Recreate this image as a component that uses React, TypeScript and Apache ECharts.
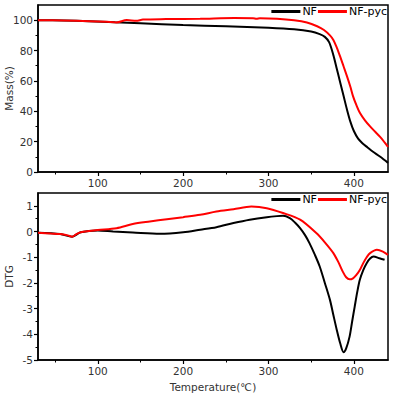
import React, { useEffect, useRef } from "react";
import * as echarts from "echarts";

// Mass (TG) curves
const massNFTemp = [30, 60, 90, 120, 150, 200, 250, 300, 330, 350, 360, 366, 371, 376, 380, 384, 388, 392, 396, 400, 405, 410, 416, 422, 431, 440];
const massNF = [100, 99.8, 99.3, 98.6, 98.0, 96.8, 96.0, 95.0, 94.0, 92.5, 90.8, 89, 85.5, 77, 68, 59, 50, 41, 33, 27, 22, 19, 16.2, 13.5, 10, 6];
const massPycTemp = [30, 60, 90, 110, 122, 134, 145, 153, 180, 220, 260, 282, 286, 290, 310, 330, 345, 357, 365, 372, 376, 380, 384, 388, 392, 396, 399, 403, 407, 413, 419, 425, 431, 436, 440];
const massPyc = [100, 99.8, 99.3, 98.9, 98.5, 100.1, 99.6, 100.4, 100.7, 100.9, 101.4, 101.3, 100.9, 101.3, 101, 100, 98.5, 96, 93.5, 90, 87, 82, 76, 69.5, 63, 56, 50, 44, 39, 34, 30, 26.5, 23, 19.5, 16.5];

// DTG curves
const dtgNFTemp = [30, 56, 70, 80, 100, 118, 141, 173, 200, 220, 239, 259, 278, 298, 310, 317, 325, 331, 337, 343, 348, 354, 360, 366, 372, 376, 380, 384, 388, 391, 395, 398, 401, 404, 407, 411, 415, 419, 423, 430, 436];
const dtgNF = [-0.05, -0.1, -0.2, -0.03, 0.04, 0.0, -0.04, -0.09, -0.03, 0.07, 0.17, 0.33, 0.46, 0.56, 0.6, 0.61, 0.52, 0.35, 0.13, -0.15, -0.45, -0.88, -1.36, -2.0, -2.66, -3.25, -3.83, -4.35, -4.7, -4.55, -4.09, -3.5, -2.92, -2.35, -1.88, -1.5, -1.23, -1.05, -0.97, -1.04, -1.1];
const dtgPycTemp = [30, 45, 56, 65, 70, 75, 80, 90, 100, 122, 141, 161, 181, 200, 220, 239, 259, 280, 298, 317, 337, 356, 366, 376, 382, 387, 391, 395, 399, 403, 407, 411, 415, 419, 427, 434, 440];
const dtgPyc = [-0.05, -0.08, -0.1, -0.15, -0.2, -0.1, -0.03, 0.02, 0.06, 0.13, 0.29, 0.39, 0.48, 0.56, 0.65, 0.78, 0.87, 0.97, 0.91, 0.72, 0.46, -0.06, -0.42, -0.84, -1.2, -1.56, -1.78, -1.86, -1.82, -1.69, -1.5, -1.23, -1.0, -0.84, -0.71, -0.78, -0.91];

const xMajor = [100, 200, 300, 400];
const xMinor = [50, 150, 250, 350];
const massMajor = [0, 20, 40, 60, 80, 100];
const massMinor = [10, 30, 50, 70, 90];
const dtgMajor = [-5, -4, -3, -2, -1, 0, 1];
const dtgMinor = [-4.5, -3.5, -2.5, -1.5, -0.5, 0.5];

const seriesNames = ["NF", "NF-pyc"];
const colors = ["#000000", "#ff0000"];

const zip = (xs: number[], ys: number[]) => xs.map((x, i) => [x, ys[i]]);

const font = "DejaVu Sans";
const labelStyle = { color: "#333", fontFamily: font, fontSize: 10.5 };

export default function App() {
  const ref = useRef<HTMLDivElement>(null);
  useEffect(() => {
    if (!ref.current) return;
    const chart = echarts.init(ref.current, undefined, { renderer: "svg" });
    const grids = [
      { left: 38, top: 5, width: 350, height: 167 },
      { left: 38, top: 193, width: 350, height: 167 },
    ];
    const xAxes: any[] = [];
    const yAxes: any[] = [];
    [0, 1].forEach((g) => {
      xAxes.push({
        type: "value",
        gridIndex: g,
        position: "bottom",
        min: 30,
        max: 440,
        name: g === 1 ? "Temperature(℃)" : "",
        nameLocation: "middle",
        nameGap: 21,
        nameMoveOverlap: false,
        nameTextStyle: { color: "#333", fontFamily: font, fontSize: 10.5 },
        axisLine: { show: true, onZero: false, lineStyle: { color: "#000", width: 1.5 } },
        axisTick: { show: true, customValues: xMajor, length: 4, lineStyle: { color: "#000", width: 1.2 } },
        axisLabel: { ...labelStyle, customValues: xMajor, margin: 5 },
        splitLine: { show: false },
      });
      xAxes.push({
        type: "value",
        gridIndex: g,
        position: "bottom",
        min: 30,
        max: 440,
        axisLine: { show: false, onZero: false },
        axisTick: { show: true, customValues: xMinor, length: 2.5, lineStyle: { color: "#000", width: 1 } },
        axisLabel: { show: false },
        splitLine: { show: false },
      });
      const major = g === 0 ? massMajor : dtgMajor;
      const minor = g === 0 ? massMinor : dtgMinor;
      const ymin = g === 0 ? 0 : -5;
      const ymax = g === 0 ? 110 : 1.5;
      yAxes.push({
        type: "value",
        gridIndex: g,
        position: "left",
        min: ymin,
        max: ymax,
        name: g === 0 ? "Mass(%)" : "DTG",
        nameLocation: "middle",
        nameGap: 24,
        nameMoveOverlap: false,
        nameTextStyle: { color: "#333", fontFamily: font, fontSize: 10.5 },
        axisLine: { show: true, onZero: false, lineStyle: { color: "#000", width: 1.5 } },
        axisTick: { show: true, customValues: major, length: 4, lineStyle: { color: "#000", width: 1.2 } },
        axisLabel: { ...labelStyle, customValues: major, margin: 5 },
        splitLine: { show: false },
      });
      yAxes.push({
        type: "value",
        gridIndex: g,
        position: "left",
        offset: 0,
        min: ymin,
        max: ymax,
        axisLine: { show: false, onZero: false },
        axisTick: { show: true, customValues: minor, length: 2.5, lineStyle: { color: "#000", width: 1 } },
        axisLabel: { show: false },
        splitLine: { show: false },
      });
    });

    const lineSeries = (name: string, data: number[][], g: number, color: string) => ({
      type: "line",
      name,
      xAxisIndex: g * 2,
      yAxisIndex: g * 2,
      data,
      showSymbol: false,
      smooth: 0.3,
      lineStyle: { color, width: 2 },
      itemStyle: { color },
    });

    const legendCommon = {
      data: seriesNames,
      right: 9,
      orient: "horizontal",
      icon: "rect",
      itemWidth: 29,
      itemHeight: 3,
      itemGap: 1,
      padding: [5, 1, 5, 5],
      textStyle: { color: "#000", fontFamily: font, fontSize: 11, padding: [0, 0, 0, -3] },
    };

    chart.setOption({
      animation: false,
      backgroundColor: "#fff",
      grid: grids.map((gr) => ({
        ...gr,
        show: true,
        outerBoundsMode: "none",
        containLabel: false,
        borderColor: "#000",
        borderWidth: 1.5,
        backgroundColor: "transparent",
      })),
      xAxis: xAxes,
      yAxis: yAxes,
      legend: [
        { ...legendCommon, top: 1 },
        { ...legendCommon, top: 189 },
      ],
      series: [
        lineSeries(seriesNames[0], zip(massNFTemp, massNF), 0, colors[0]),
        lineSeries(seriesNames[1], zip(massPycTemp, massPyc), 0, colors[1]),
        lineSeries(seriesNames[0], zip(dtgNFTemp, dtgNF), 1, colors[0]),
        lineSeries(seriesNames[1], zip(dtgPycTemp, dtgPyc), 1, colors[1]),
      ],
    });
    return () => chart.dispose();
  }, []);
  return <div ref={ref} style={{ width: 397, height: 398, position: "absolute", left: 0, top: 0 }} />;
}
